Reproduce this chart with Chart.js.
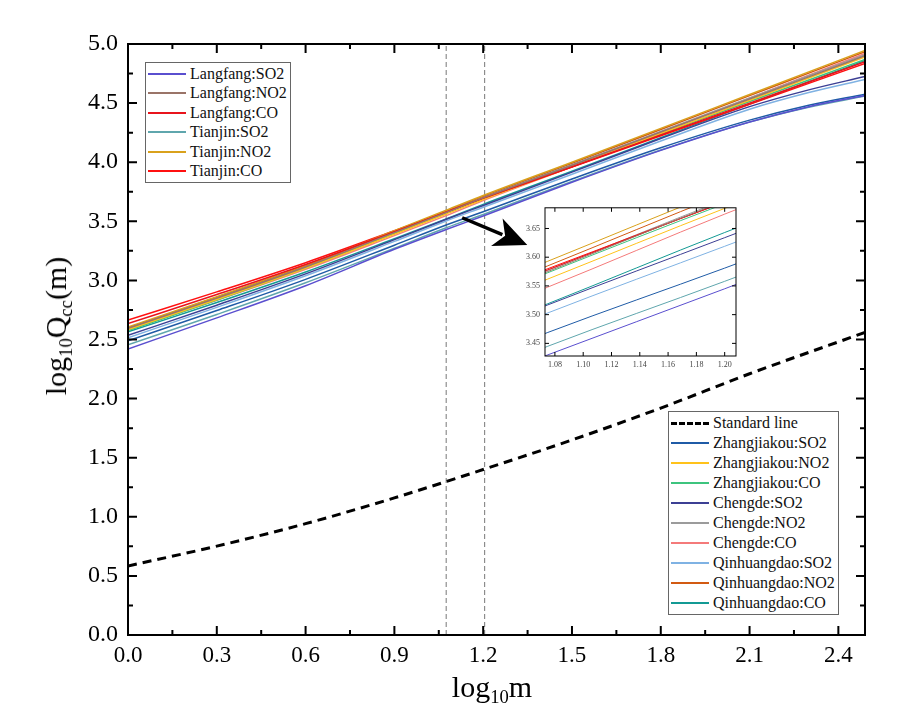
<!DOCTYPE html>
<html lang="en">
<head>
    <meta charset="UTF-8">
    <title>log10Qcc vs log10m</title>
    <style>
        body {
            margin: 0;
            background: #fff;
            font-family: "Liberation Serif", "Times New Roman", serif;
        }

        #wrap {
            position: relative;
            width: 898px;
            height: 721px;
        }

        #mainChart { position: absolute; left: 0; top: 0; }
        #insetChart { position: absolute; left: 515px; top: 198px; }

        .legend {
            position: absolute;
            border: 1px solid #666;
            background: #fff;
            font-size: 16px;
            color: #111;
            padding: 1px 3px 1px 2px;
        }

        .legend .row {
            display: flex;
            align-items: center;
            white-space: nowrap;
        }

        .legend .swatch {
            width: 38px;
            height: 0;
            border-top: 2px solid;
            margin-right: 4px;
        }

        .axis-title {
            position: absolute;
            font-size: 30px;
            color: #000;
            white-space: nowrap;
            line-height: 1;
        }

        .axis-title sub {
            font-size: 0.62em;
            vertical-align: -0.3em;
            line-height: 0;
        }

        #xTitle { left: 492px; top: 672px; transform: translateX(-50%); }
        #yTitle { left: 56px; top: 326px; transform: translate(-50%, -50%) rotate(-90deg); }
    </style>
</head>
<body>
    <div id="wrap">
        <canvas id="mainChart" width="898" height="721"></canvas>
        <canvas id="insetChart" width="226" height="172"></canvas>
        <div class="legend" id="legendTop" style="left:145px; top:62px;"></div>
        <div class="legend" id="legendBottom" style="left:668px; top:411px;"></div>
        <div class="axis-title" id="xTitle">log<sub>10</sub>m</div>
        <div class="axis-title" id="yTitle">log<sub>10</sub>Q<sub>cc</sub>(m)</div>
    </div>

    <script src="https://cdn.jsdelivr.net/npm/chart.js"></script>
    <script>
        // log10m sample positions shared by all city curves
        const xValues = [0, 0.3, 0.6, 0.9, 1.075, 1.2, 1.5, 1.8, 2.1, 2.3, 2.49];

        const langfangSO2     = [2.420, 2.683, 2.955, 3.263, 3.430, 3.545, 3.830, 4.100, 4.340, 4.470, 4.565];
        const langfangNO2     = [2.595, 2.850, 3.114, 3.404, 3.575, 3.698, 3.974, 4.255, 4.535, 4.722, 4.900];
        const langfangCO      = [2.635, 2.880, 3.135, 3.413, 3.578, 3.696, 3.961, 4.230, 4.500, 4.679, 4.850];
        const tianjinSO2      = [2.455, 2.712, 2.980, 3.272, 3.445, 3.558, 3.837, 4.103, 4.339, 4.465, 4.560];
        const tianjinNO2      = [2.605, 2.862, 3.129, 3.420, 3.593, 3.718, 4.000, 4.286, 4.573, 4.764, 4.945];
        const tianjinCO       = [2.665, 2.903, 3.150, 3.420, 3.580, 3.696, 3.958, 4.224, 4.489, 4.667, 4.835];
        const zhangjiakouSO2  = [2.490, 2.745, 3.009, 3.298, 3.469, 3.581, 3.858, 4.122, 4.356, 4.482, 4.575];
        const zhangjiakouNO2  = [2.585, 2.839, 3.103, 3.391, 3.562, 3.685, 3.962, 4.243, 4.524, 4.712, 4.890];
        const zhangjiakouCO   = [2.575, 2.834, 3.104, 3.398, 3.573, 3.693, 3.963, 4.238, 4.513, 4.696, 4.870];
        const chengdeSO2      = [2.535, 2.790, 3.055, 3.345, 3.517, 3.634, 3.916, 4.200, 4.470, 4.612, 4.725];
        const chengdeNO2      = [2.590, 2.847, 3.113, 3.404, 3.577, 3.700, 3.978, 4.260, 4.543, 4.731, 4.910];
        const chengdeCO       = [2.580, 2.832, 3.093, 3.379, 3.548, 3.675, 3.961, 4.252, 4.542, 4.736, 4.920];
        const qinhuangdaoSO2  = [2.515, 2.772, 3.039, 3.330, 3.503, 3.619, 3.898, 4.179, 4.448, 4.589, 4.700];
        const qinhuangdaoNO2  = [2.600, 2.856, 3.122, 3.413, 3.585, 3.710, 3.991, 4.277, 4.563, 4.754, 4.935];
        const qinhuangdaoCO   = [2.565, 2.813, 3.071, 3.352, 3.519, 3.643, 3.923, 4.207, 4.491, 4.680, 4.860];

        // standard line
        const standardX = [0, 0.3, 0.6, 0.9, 1.2, 1.5, 1.8, 2.1, 2.49];
        const standardY = [0.584, 0.752, 0.942, 1.160, 1.400, 1.650, 1.920, 2.210, 2.560];

        // zoomed window marked by the dashed verticals
        const zoomX = [1.075, 1.205];
        // arrow from the curves to the inset (log10m, log10Qcc)
        const arrowFrom = [1.129, 3.530];
        const arrowTo = [1.349, 3.300];

        const xTicks = [0, 0.3, 0.6, 0.9, 1.2, 1.5, 1.8, 2.1, 2.4];
        const xMinor = [0.15, 0.45, 0.75, 1.05, 1.35, 1.65, 1.95, 2.25];
        const yTicks = [0, 0.5, 1, 1.5, 2, 2.5, 3, 3.5, 4, 4.5, 5];
        const yMinor = [0.25, 0.75, 1.25, 1.75, 2.25, 2.75, 3.25, 3.75, 4.25, 4.75];
        const insetXTicks = [1.08, 1.10, 1.12, 1.14, 1.16, 1.18, 1.20];
        const insetYTicks = [3.45, 3.50, 3.55, 3.60, 3.65];

        const topLegend = [
            ['Langfang:SO2', langfangSO2, '#5a4fcf'],
            ['Langfang:NO2', langfangNO2, '#9a7468'],
            ['Langfang:CO', langfangCO, '#e8141c'],
            ['Tianjin:SO2', tianjinSO2, '#5fa6ad'],
            ['Tianjin:NO2', tianjinNO2, '#d9a11c'],
            ['Tianjin:CO', tianjinCO, '#ff1010']
        ];
        const bottomLegend = [
            ['Zhangjiakou:SO2', zhangjiakouSO2, '#1f5ba6'],
            ['Zhangjiakou:NO2', zhangjiakouNO2, '#ffc21a'],
            ['Zhangjiakou:CO', zhangjiakouCO, '#3dc47e'],
            ['Chengde:SO2', chengdeSO2, '#3c3f94'],
            ['Chengde:NO2', chengdeNO2, '#9b9b9b'],
            ['Chengde:CO', chengdeCO, '#f47a7a'],
            ['Qinhuangdao:SO2', qinhuangdaoSO2, '#7fb2e3'],
            ['Qinhuangdao:NO2', qinhuangdaoNO2, '#d25a12'],
            ['Qinhuangdao:CO', qinhuangdaoCO, '#139a94']
        ];
        const cities = topLegend.concat(bottomLegend);

        const serif = '"Liberation Serif", "Times New Roman", serif';

        function cityDatasets(width) {
            return cities.map(([label, ys, color]) => ({
                label: label,
                data: ys.map((y, i) => ({ x: xValues[i], y: y })),
                borderColor: color,
                borderWidth: width,
                pointRadius: 0,
                cubicInterpolationMode: 'monotone',
                fill: false,
                clip: 0
            }));
        }

        // box around the plot and inward ticks on all four sides
        const frameTicks = {
            id: 'frameTicks',
            afterDatasetsDraw(chart, args, opts) {
                const { ctx, chartArea: a, scales: { x, y } } = chart;
                ctx.save();
                ctx.strokeStyle = '#000';
                ctx.lineWidth = opts.width;
                ctx.strokeRect(a.left, a.top, a.right - a.left, a.bottom - a.top);
                ctx.beginPath();
                const tickX = (vals, len) => vals.forEach(v => {
                    const px = x.getPixelForValue(v);
                    ctx.moveTo(px, a.bottom); ctx.lineTo(px, a.bottom - len);
                    ctx.moveTo(px, a.top); ctx.lineTo(px, a.top + len);
                });
                const tickY = (vals, len) => vals.forEach(v => {
                    const py = y.getPixelForValue(v);
                    ctx.moveTo(a.left, py); ctx.lineTo(a.left + len, py);
                    ctx.moveTo(a.right, py); ctx.lineTo(a.right - len, py);
                });
                tickX(opts.xMajor, opts.major);
                tickX(opts.xMinor, opts.minor);
                tickY(opts.yMajor, opts.major);
                tickY(opts.yMinor, opts.minor);
                ctx.stroke();
                ctx.restore();
            }
        };

        const arrowPlugin = {
            id: 'zoomArrow',
            afterDatasetsDraw(chart) {
                const { ctx, scales: { x, y } } = chart;
                const x0 = x.getPixelForValue(arrowFrom[0]), y0 = y.getPixelForValue(arrowFrom[1]);
                const x1 = x.getPixelForValue(arrowTo[0]), y1 = y.getPixelForValue(arrowTo[1]);
                const ang = Math.atan2(y1 - y0, x1 - x0);
                const headLen = 33, headW = 15;
                ctx.save();
                ctx.translate(x1, y1);
                ctx.rotate(ang);
                const len = Math.hypot(x1 - x0, y1 - y0);
                ctx.strokeStyle = '#000';
                ctx.lineWidth = 3.5;
                ctx.beginPath();
                ctx.moveTo(-len, 0);
                ctx.lineTo(-headLen + 6, 0);
                ctx.stroke();
                ctx.fillStyle = '#000';
                ctx.beginPath();
                ctx.moveTo(0, 0);
                ctx.lineTo(-headLen, -headW);
                ctx.lineTo(-headLen + 9, 0);
                ctx.lineTo(-headLen, headW);
                ctx.closePath();
                ctx.fill();
                ctx.restore();
            }
        };

        const mainDatasets = [
            {
                label: 'Standard line',
                data: standardY.map((y, i) => ({ x: standardX[i], y: y })),
                borderColor: '#000',
                borderWidth: 3,
                borderDash: [9, 6],
                pointRadius: 0,
                cubicInterpolationMode: 'monotone',
                fill: false
            }
        ].concat(cityDatasets(1.5)).concat(zoomX.map(v => ({
            label: 'zoom ' + v,
            data: [{ x: v, y: 0 }, { x: v, y: 5 }],
            borderColor: '#777',
            borderWidth: 1,
            borderDash: [5, 3],
            pointRadius: 0,
            fill: false
        })));

        new Chart(document.getElementById('mainChart').getContext('2d'), {
            type: 'line',
            data: { datasets: mainDatasets },
            options: {
                responsive: false,
                animation: false,
                layout: { padding: { top: 44, right: 33, left: 0, bottom: 0 } },
                plugins: {
                    legend: { display: false },
                    tooltip: { enabled: false },
                    frameTicks: { width: 2, major: 9, minor: 5, xMajor: xTicks, xMinor: xMinor, yMajor: yTicks, yMinor: yMinor }
                },
                scales: {
                    x: {
                        type: 'linear',
                        min: 0,
                        max: 2.49,
                        afterBuildTicks: s => { s.ticks = xTicks.map(v => ({ value: v })); },
                        afterFit: s => { s.height = 86; },
                        grid: { display: false, drawTicks: false },
                        border: { display: false },
                        ticks: {
                            color: '#000',
                            padding: 7,
                            maxRotation: 0,
                            font: { family: serif, size: 23 },
                            callback: v => v.toFixed(1)
                        }
                    },
                    y: {
                        type: 'linear',
                        min: 0,
                        max: 5,
                        afterBuildTicks: s => { s.ticks = yTicks.map(v => ({ value: v })); },
                        afterFit: s => { s.width = 128; },
                        grid: { display: false, drawTicks: false },
                        border: { display: false },
                        ticks: {
                            color: '#000',
                            padding: 10,
                            font: { family: serif, size: 24 },
                            callback: v => v.toFixed(1)
                        }
                    }
                }
            },
            plugins: [frameTicks, arrowPlugin]
        });

        // magnified view of the 1.075 - 1.205 window
        new Chart(document.getElementById('insetChart').getContext('2d'), {
            type: 'line',
            data: { datasets: cityDatasets(1) },
            options: {
                responsive: false,
                animation: false,
                layout: { padding: { top: 5, right: 5, left: 0, bottom: 0 } },
                plugins: {
                    legend: { display: false },
                    tooltip: { enabled: false },
                    frameTicks: { width: 1, major: 4, minor: 2, xMajor: insetXTicks, xMinor: [], yMajor: insetYTicks, yMinor: [] }
                },
                scales: {
                    x: {
                        type: 'linear',
                        min: 1.073,
                        max: 1.208,
                        afterBuildTicks: s => { s.ticks = insetXTicks.map(v => ({ value: v })); },
                        afterFit: s => { s.height = 14; },
                        grid: { display: false, drawTicks: false },
                        border: { display: false },
                        ticks: { color: '#444', padding: 4, maxRotation: 0, font: { family: serif, size: 8 }, callback: v => v.toFixed(2) }
                    },
                    y: {
                        type: 'linear',
                        min: 3.428,
                        max: 3.686,
                        afterBuildTicks: s => { s.ticks = insetYTicks.map(v => ({ value: v })); },
                        afterFit: s => { s.width = 30; },
                        grid: { display: false, drawTicks: false },
                        border: { display: false },
                        ticks: { color: '#444', padding: 5, font: { family: serif, size: 8 }, callback: v => v.toFixed(2) }
                    }
                }
            },
            plugins: [frameTicks]
        });

        function buildLegend(el, rows, height) {
            rows.forEach(([label, , color, dashed]) => {
                const row = document.createElement('div');
                row.className = 'row';
                row.style.height = height + 'px';
                const sw = document.createElement('span');
                sw.className = 'swatch';
                sw.style.borderTopColor = color;
                if (dashed) { sw.style.borderTop = '3px dashed #000'; }
                const tx = document.createElement('span');
                tx.textContent = label;
                row.appendChild(sw);
                row.appendChild(tx);
                el.appendChild(row);
            });
        }

        buildLegend(document.getElementById('legendTop'), topLegend, 19.5);
        buildLegend(document.getElementById('legendBottom'),
            [['Standard line', standardY, '#000', true]].concat(bottomLegend), 20);
    </script>
</body>
</html>
